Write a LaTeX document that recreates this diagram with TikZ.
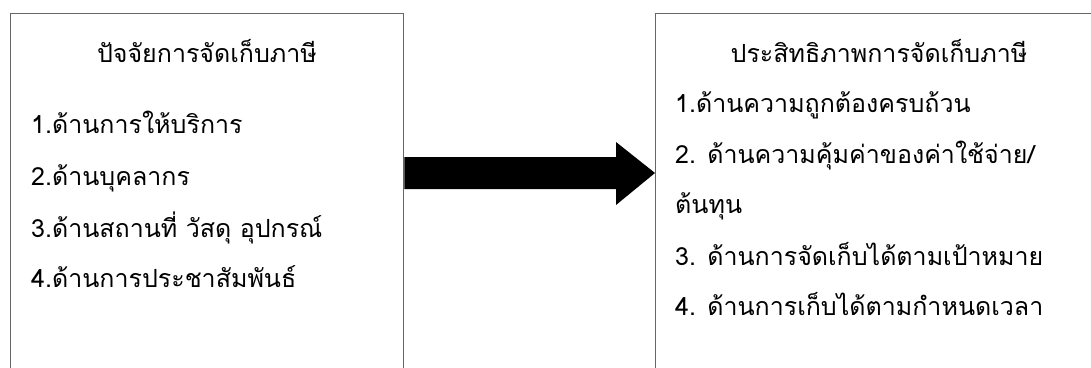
\documentclass[tikz,border=0pt]{standalone}
\usepackage{fontspec}
\newfontfamily\thaifont[Script=Thai]{Loma}
\begin{document}
\begin{tikzpicture}[x=1pt,y=-1pt,
  panel/.style={draw=black!60,line width=1.3pt,inner sep=0pt},
  ttl/.style={font=\thaifont\fontsize{25}{28}\selectfont,anchor=base,inner sep=0pt},
  item/.style={font=\thaifont\fontsize{25}{28}\selectfont,anchor=base west,inner sep=0pt}]
\useasboundingbox (0,0) rectangle (1091,367);
\clip (0,0) rectangle (1091,367);
\node[panel,minimum width=393pt,minimum height=400pt,anchor=north west] (L) at (10,13) {};
\node[panel,minimum width=480pt,minimum height=400pt,anchor=north west] (R) at (655,13) {};
\node[ttl] (lt) at (207,62) {ปัจจัยการจัดเก็บภาษี};
\node[item] (l1) at (31,133) {1.ด้านการให้บริการ};
\node[item] (l2) at (31,185) {2.ด้านบุคลากร};
\node[item] (l3) at (31,237) {3.ด้านสถานที่ วัสดุ อุปกรณ์};
\node[item] (l4) at (31,287) {4.ด้านการประชาสัมพันธ์};
\node[ttl] (rt) at (879,62) {ประสิทธิภาพการจัดเก็บภาษี};
\node[item] (r1) at (675,112) {1.ด้านความถูกต้องครบถ้วน};
\node[item] (r2) at (675,163) {2. ด้านความคุ้มค่าของค่าใช้จ่าย/};
\node[item] (r2b) at (675,213) {ต้นทุน};
\node[item] (r3) at (675,265) {3. ด้านการจัดเก็บได้ตามเป้าหมาย};
\node[item] (r4) at (675,315) {4. ด้านการเก็บได้ตามกำหนดเวลา};
\fill[black] (L.east |- 0,157) -- (616,157) -- (616,142) -- (R.west |- 0,173) -- (616,205) -- (616,189) -- (L.east |- 0,189) -- cycle;
\end{tikzpicture}
\end{document}
